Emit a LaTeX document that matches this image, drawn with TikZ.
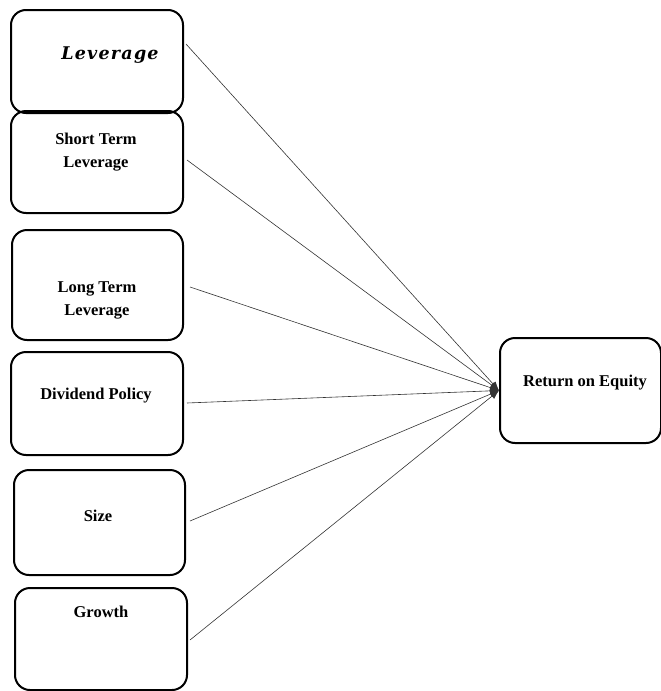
\documentclass[tikz,border=0pt]{standalone}
\usepackage{fontspec}
\setmainfont{Liberation Serif}
\newfontfamily\levfont[LetterSpace=7]{DejaVu Serif}
\usetikzlibrary{arrows.meta}

\tikzset{
  caixa/.style={draw, line width=2pt, rounded corners=15pt, inner sep=0pt},
  texto/.style={font=\fontsize{16.5}{23}\selectfont\bfseries, align=center, inner sep=0pt},
  seta/.style={line width=0.6pt, draw=black!80, -{Latex[length=9pt,width=7pt]}}
}

\begin{document}
\begin{tikzpicture}[x=1pt, y=-1pt] %y cresce para baixo, como na imagem

\useasboundingbox (0,0) rectangle (661,691);

%----------------------------------------------------
%Caixas das variaveis independentes
%----------------------------------------------------
\node[caixa, minimum width=172pt, minimum height=103pt] (lev) at (97,61.5) {};
\node[caixa, minimum width=172pt, minimum height=102pt] (stl) at (97,162) {};
\node[caixa, minimum width=171pt, minimum height=110pt] (ltl) at (97.5,285) {};
\node[caixa, minimum width=172pt, minimum height=103pt] (div) at (97,403.5) {};
\node[caixa, minimum width=171pt, minimum height=105pt] (size) at (99.5,522.5) {};
\node[caixa, minimum width=172pt, minimum height=102pt] (growth) at (101,639) {};

%caixa da variavel dependente
\node[caixa, minimum width=161pt, minimum height=105pt] (roe) at (580.5,390.5) {};

%----------------------------------------------------
%Textos dentro das caixas
%----------------------------------------------------
\node[texto, font=\fontsize{17.5}{23}\selectfont\levfont\bfseries\itshape] (levtxt) at (110,55) {Leverage};
\node[texto] (stltxt) at (96,152) {Short Term\\Leverage};
\node[texto] (ltltxt) at (97,300) {Long Term\\Leverage};
\node[texto] (divtxt) at (96,396) {Dividend Policy};
\node[texto] (sizetxt) at (98,516) {Size};
\node[texto] (growthtxt) at (101,612) {Growth};
\node[texto] (roetxt) at (585,383) {Return on Equity};

%----------------------------------------------------
%Pontos de saida das setas
%----------------------------------------------------
\coordinate (levout) at (186,44);
\coordinate (stlout) at (187,160);
\coordinate (ltlout) at (190,287);
\coordinate (divout) at (187,403);
\coordinate (sizeout) at (190,521);
\coordinate (growthout) at (190,640);

%----------------------------------------------------
%Setas ate Return on Equity
%----------------------------------------------------
\foreach \v in {levout,stlout,ltlout,divout,sizeout,growthout}
  \draw[seta] (\v) -- (roe.west);

\end{tikzpicture}
\end{document}
